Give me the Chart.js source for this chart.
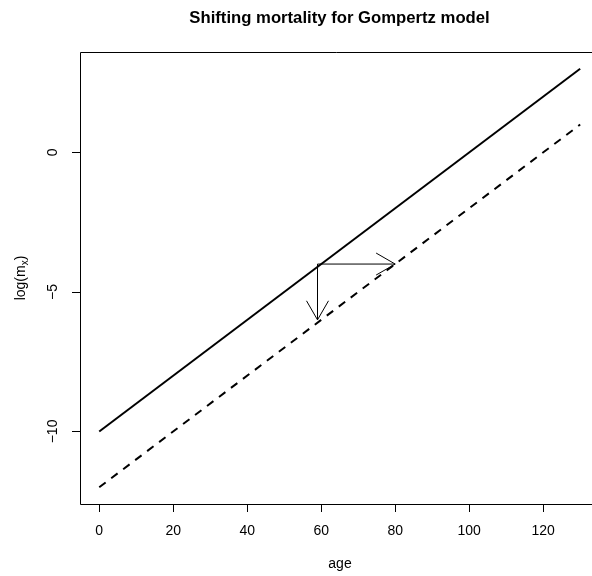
<!DOCTYPE html>
<html>
<head>
<meta charset="utf-8">
<script src="https://cdn.jsdelivr.net/npm/chart.js@4/dist/chart.umd.min.js"></script>
<style>
  html, body { margin: 0; padding: 0; background: #fff; overflow: hidden; }
  canvas { display: block; }
</style>
</head>
<body>
<canvas id="gompertzChart" width="592" height="576"></canvas>
<script>
const ages = [0, 130];
const logMxBefore = [-10, 3];
const logMxAfter = [-12, 1];
const xTicks = [0, 20, 40, 60, 80, 100, 120];
const yTicks = [-10, -5, 0];
const yTickLabels = ["\u221210", "\u22125", "0"];
// arrows: start -> end (age, log m_x)
const arrowFromX = [59, 59];
const arrowFromY = [-4, -4];
const arrowToX = [80, 59];
const arrowToY = [-4, -6];

const FONT = "Liberation Sans, Arial, Helvetica, sans-serif";
const LABEL_SIZE = 14;

const rAxesPlugin = {
  id: "rAxes",
  afterDatasetsDraw(chart) {
    const ctx = chart.ctx;
    const area = chart.chartArea;
    const xs = chart.scales.x;
    const ys = chart.scales.y;
    ctx.save();

    // arrows
    ctx.strokeStyle = "#000";
    ctx.lineWidth = 1;
    for (let i = 0; i < arrowFromX.length; i++) {
      const x0 = xs.getPixelForValue(arrowFromX[i]);
      const y0 = ys.getPixelForValue(arrowFromY[i]);
      const x1 = xs.getPixelForValue(arrowToX[i]);
      const y1 = ys.getPixelForValue(arrowToY[i]);
      const ang = Math.atan2(y1 - y0, x1 - x0);
      const len = 22;
      const spread = Math.PI / 6;
      ctx.beginPath();
      ctx.moveTo(x0, y0);
      ctx.lineTo(x1, y1);
      ctx.moveTo(x1 - len * Math.cos(ang - spread), y1 - len * Math.sin(ang - spread));
      ctx.lineTo(x1, y1);
      ctx.lineTo(x1 - len * Math.cos(ang + spread), y1 - len * Math.sin(ang + spread));
      ctx.stroke();
    }

    // box (right side falls off the canvas)
    ctx.beginPath();
    ctx.moveTo(area.right + 10, area.top + 0.5);
    ctx.lineTo(area.left + 0.5, area.top + 0.5);
    ctx.lineTo(area.left + 0.5, area.bottom + 0.5);
    ctx.lineTo(area.right + 10, area.bottom + 0.5);
    ctx.stroke();

    ctx.fillStyle = "#000";
    ctx.font = LABEL_SIZE + "px " + FONT;

    // x axis
    const xa = xs.getPixelForValue(xTicks[0]);
    const xb = xs.getPixelForValue(xTicks[xTicks.length - 1]);
    ctx.beginPath();
    ctx.moveTo(Math.round(xa) + 0.5, area.bottom + 0.5);
    ctx.lineTo(Math.round(xb) + 0.5, area.bottom + 0.5);
    xTicks.forEach((t) => {
      const px = Math.round(xs.getPixelForValue(t)) + 0.5;
      ctx.moveTo(px, area.bottom);
      ctx.lineTo(px, area.bottom + 8);
    });
    ctx.stroke();
    ctx.textAlign = "center";
    ctx.textBaseline = "middle";
    xTicks.forEach((t) => {
      ctx.fillText(String(t), xs.getPixelForValue(t), 531);
    });

    // y axis
    ctx.beginPath();
    yTicks.forEach((t) => {
      const py = Math.round(ys.getPixelForValue(t)) + 0.5;
      ctx.moveTo(area.left, py);
      ctx.lineTo(area.left - 8, py);
    });
    ctx.stroke();
    yTicks.forEach((t, i) => {
      ctx.save();
      ctx.translate(53, ys.getPixelForValue(t));
      ctx.rotate(-Math.PI / 2);
      ctx.fillText(yTickLabels[i], 0, 0);
      ctx.restore();
    });

    // axis titles
    const midX = (area.left + 600) / 2;
    ctx.textBaseline = "alphabetic";
    ctx.fillText("age", midX, 568);

    ctx.save();
    ctx.translate(25, (area.top + area.bottom) / 2);
    ctx.rotate(-Math.PI / 2);
    ctx.textAlign = "left";
    const main = "log(m";
    const sub = "x";
    const close = ")";
    ctx.font = LABEL_SIZE + "px " + FONT;
    const wMain = ctx.measureText(main).width;
    const wClose = ctx.measureText(close).width;
    ctx.font = "10px " + FONT;
    const wSub = ctx.measureText(sub).width;
    const total = wMain + wSub + wClose;
    let cx = -total / 2;
    ctx.font = LABEL_SIZE + "px " + FONT;
    ctx.fillText(main, cx, 0);
    cx += wMain;
    ctx.font = "10px " + FONT;
    ctx.fillText(sub, cx, 3);
    cx += wSub;
    ctx.font = LABEL_SIZE + "px " + FONT;
    ctx.fillText(close, cx, 0);
    ctx.restore();

    // main title
    ctx.font = "bold 16.7px " + FONT;
    ctx.textAlign = "center";
    ctx.fillText("Shifting mortality for Gompertz model", 339.5, 23);

    ctx.restore();
  },
};

const ctx = document.getElementById("gompertzChart").getContext("2d");

let gompertzChart = new Chart(ctx, {
  type: "line",
  data: {
    datasets: [
      {
        label: "before",
        data: ages.map((a, i) => ({ x: a, y: logMxBefore[i] })),
        borderColor: "#000",
        borderWidth: 2,
        pointRadius: 0,
        fill: false,
      },
      {
        label: "after",
        data: ages.map((a, i) => ({ x: a, y: logMxAfter[i] })),
        borderColor: "#000",
        borderWidth: 2,
        borderDash: [8, 7],
        pointRadius: 0,
        fill: false,
      },
    ],
  },
  options: {
    responsive: false,
    animation: false,
    devicePixelRatio: 1,
    layout: {
      padding: { left: 80, top: 52, right: 0, bottom: 72 },
    },
    scales: {
      x: { type: "linear", min: -5.2, max: 133.2, display: false },
      y: { type: "linear", min: -12.6, max: 3.6, display: false },
    },
    plugins: {
      legend: { display: false },
      tooltip: { enabled: false },
      title: { display: false },
    },
  },
  plugins: [rAxesPlugin],
});
</script>
</body>
</html>
